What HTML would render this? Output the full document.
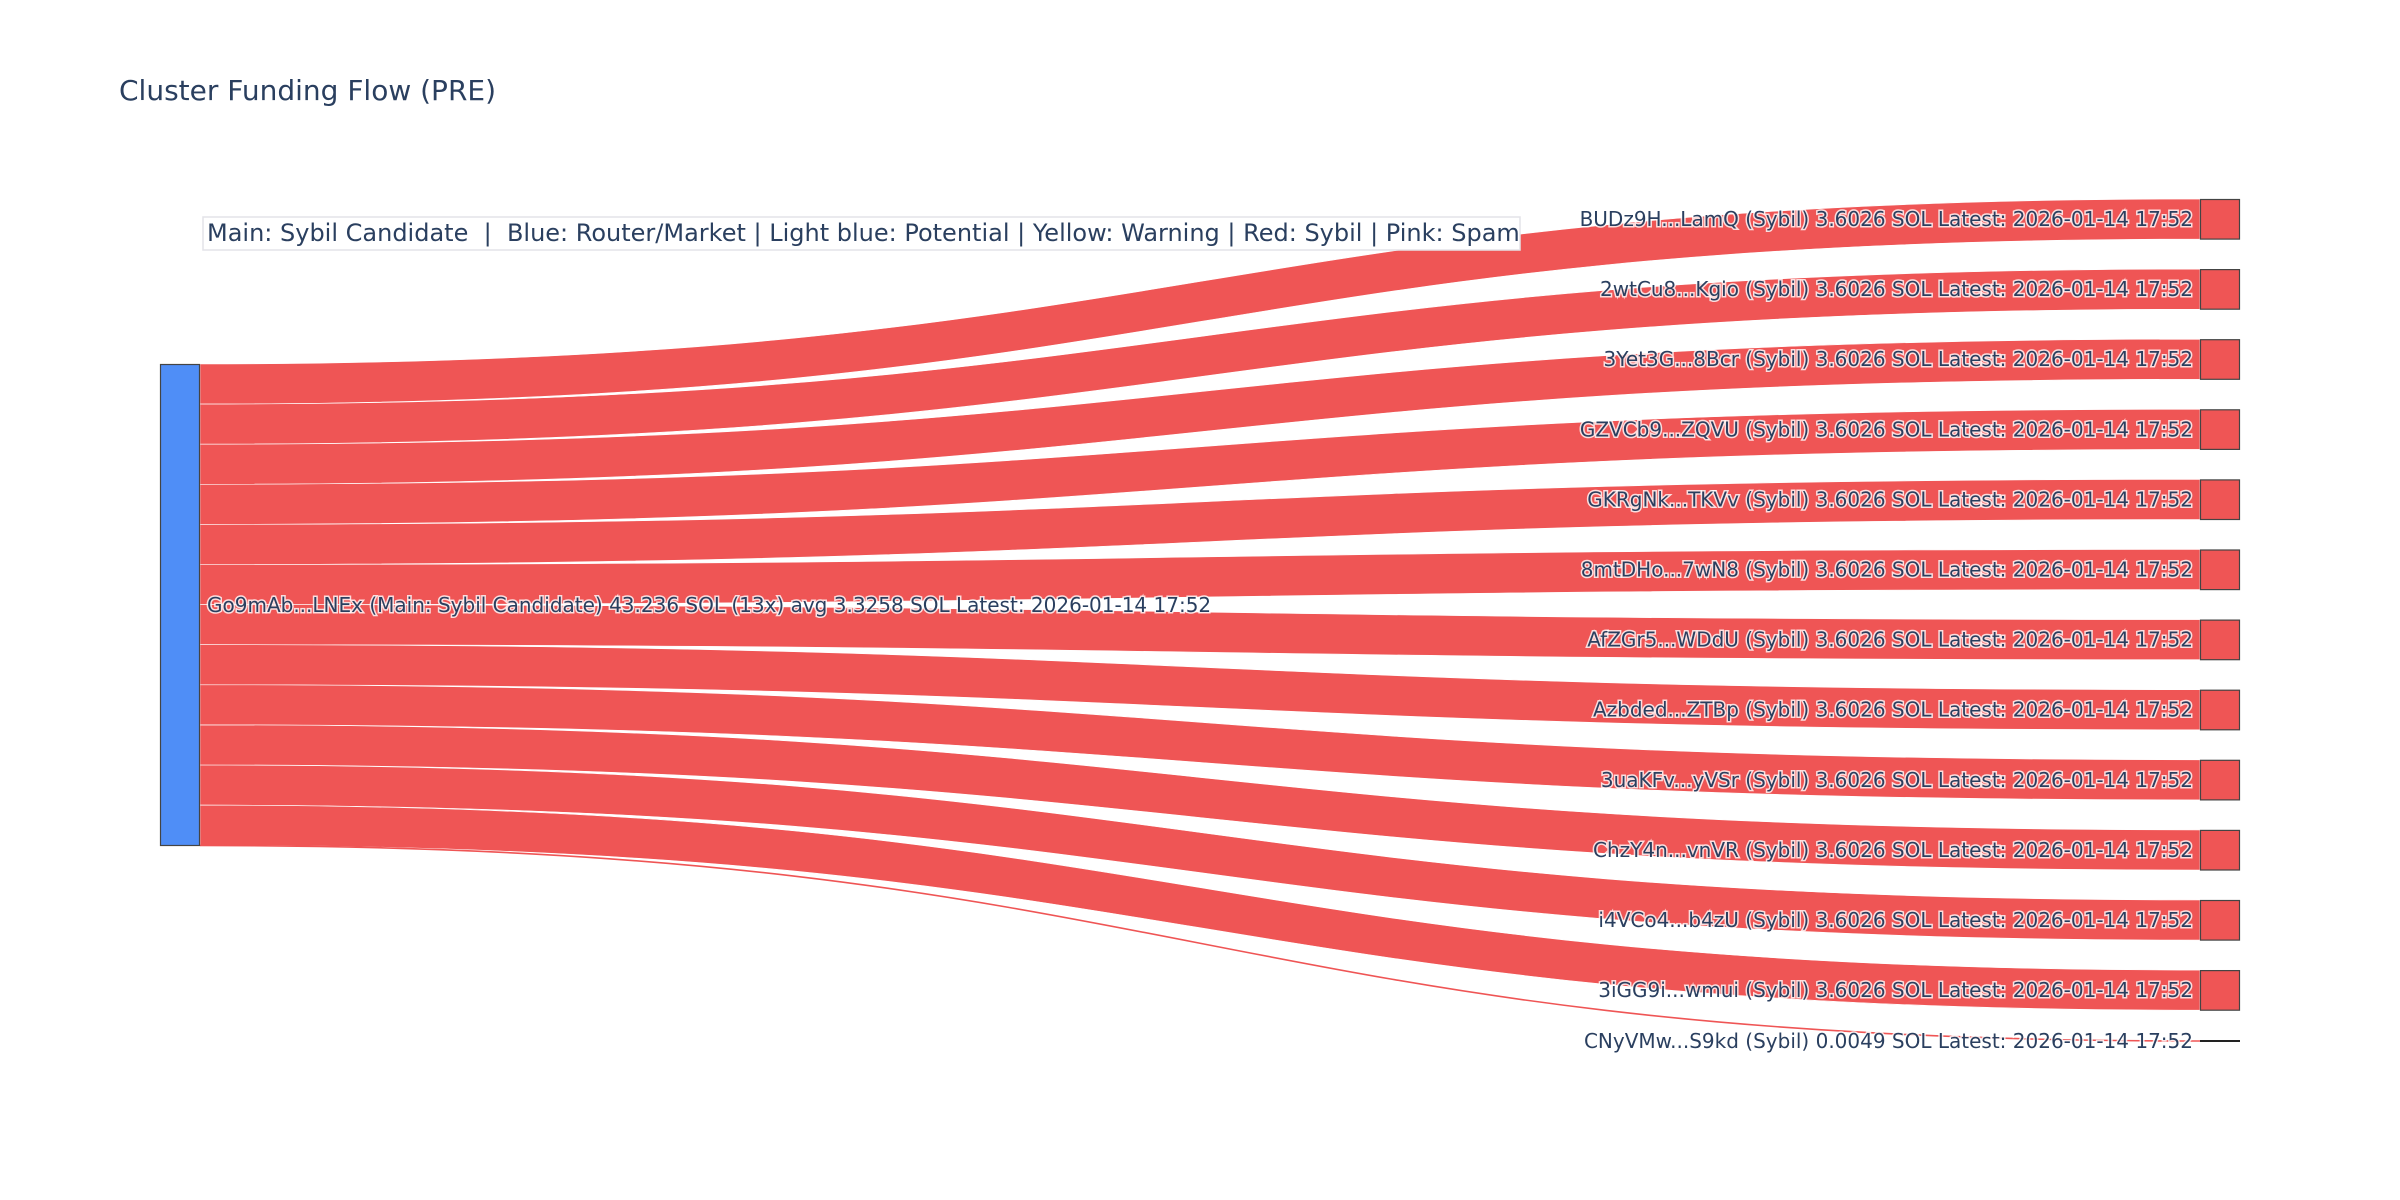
<!DOCTYPE html>
<html><head><meta charset="utf-8"><style>
html,body{margin:0;padding:0;background:#fff;}
svg{display:block;}
text{font-family:"DejaVu Sans","Liberation Sans",sans-serif;fill:#2a3f5f;white-space:pre;}
.nl{font-size:20px;text-anchor:end;dominant-baseline:central;paint-order:stroke;stroke:#fff;stroke-width:3px;stroke-opacity:0.8;}
</style></head><body>
<svg width="2400" height="1200" viewBox="0 0 2400 1200" xmlns="http://www.w3.org/2000/svg">
<rect width="2400" height="1200" fill="#fff"/>
<text x="119" y="100" style="font-size:28px">Cluster Funding Flow (PRE)</text>
<g fill="#ef5555" stroke="#fff" stroke-width="0.6">
<path d="M200,364 C1200,364 1200,199 2200,199 L2200,239.1 C1200,239.1 1200,404.1 200,404.1 Z"/>
<path d="M200,404.1 C1200,404.1 1200,269.1 2200,269.1 L2200,309.2 C1200,309.2 1200,444.2 200,444.2 Z"/>
<path d="M200,444.2 C1200,444.2 1200,339.2 2200,339.2 L2200,379.3 C1200,379.3 1200,484.3 200,484.3 Z"/>
<path d="M200,484.3 C1200,484.3 1200,409.3 2200,409.3 L2200,449.4 C1200,449.4 1200,524.4 200,524.4 Z"/>
<path d="M200,524.4 C1200,524.4 1200,479.4 2200,479.4 L2200,519.5 C1200,519.5 1200,564.5 200,564.5 Z"/>
<path d="M200,564.5 C1200,564.5 1200,549.5 2200,549.5 L2200,589.6 C1200,589.6 1200,604.6 200,604.6 Z"/>
<path d="M200,604.6 C1200,604.6 1200,619.6 2200,619.6 L2200,659.7 C1200,659.7 1200,644.7 200,644.7 Z"/>
<path d="M200,644.7 C1200,644.7 1200,689.7 2200,689.7 L2200,729.8 C1200,729.8 1200,684.8 200,684.8 Z"/>
<path d="M200,684.8 C1200,684.8 1200,759.8 2200,759.8 L2200,799.9 C1200,799.9 1200,724.9 200,724.9 Z"/>
<path d="M200,724.9 C1200,724.9 1200,829.9 2200,829.9 L2200,870 C1200,870 1200,765 200,765 Z"/>
<path d="M200,765 C1200,765 1200,900 2200,900 L2200,940.1 C1200,940.1 1200,805.1 200,805.1 Z"/>
<path d="M200,805.1 C1200,805.1 1200,970.1 2200,970.1 L2200,1010.2 C1200,1010.2 1200,845.2 200,845.2 Z"/>
</g>
<path d="M200,845.5 C1200,845.5 1200,1041 2200,1041" fill="none" stroke="#ef5555" stroke-width="1.6"/>
<rect x="160.5" y="364.5" width="39" height="481" fill="#4f8ef7" stroke="#444" stroke-width="1.2"/>
<g fill="#ef5555" stroke="#444" stroke-width="1.2">
<rect x="2200.5" y="199.5" width="39" height="39.6"/>
<rect x="2200.5" y="269.6" width="39" height="39.6"/>
<rect x="2200.5" y="339.7" width="39" height="39.6"/>
<rect x="2200.5" y="409.8" width="39" height="39.6"/>
<rect x="2200.5" y="479.9" width="39" height="39.6"/>
<rect x="2200.5" y="550" width="39" height="39.6"/>
<rect x="2200.5" y="620.1" width="39" height="39.6"/>
<rect x="2200.5" y="690.2" width="39" height="39.6"/>
<rect x="2200.5" y="760.3" width="39" height="39.6"/>
<rect x="2200.5" y="830.4" width="39" height="39.6"/>
<rect x="2200.5" y="900.5" width="39" height="39.6"/>
<rect x="2200.5" y="970.6" width="39" height="39.6"/>
</g>
<line x1="2200" y1="1041" x2="2240" y2="1041" stroke="#222" stroke-width="2"/>
<g>
<text class="nl" x="2193" y="219">BUDz9H...LamQ (Sybil) 3.6026 SOL Latest: 2026-01-14 17:52</text>
<text class="nl" x="2193" y="289.1">2wtCu8...Kgio (Sybil) 3.6026 SOL Latest: 2026-01-14 17:52</text>
<text class="nl" x="2193" y="359.2">3Yet3G...8Bcr (Sybil) 3.6026 SOL Latest: 2026-01-14 17:52</text>
<text class="nl" x="2193" y="429.3">GZVCb9...ZQVU (Sybil) 3.6026 SOL Latest: 2026-01-14 17:52</text>
<text class="nl" x="2193" y="499.4">GKRgNk...TKVv (Sybil) 3.6026 SOL Latest: 2026-01-14 17:52</text>
<text class="nl" x="2193" y="569.5">8mtDHo...7wN8 (Sybil) 3.6026 SOL Latest: 2026-01-14 17:52</text>
<text class="nl" x="2193" y="639.6">AfZGr5...WDdU (Sybil) 3.6026 SOL Latest: 2026-01-14 17:52</text>
<text class="nl" x="2193" y="709.7">Azbded...ZTBp (Sybil) 3.6026 SOL Latest: 2026-01-14 17:52</text>
<text class="nl" x="2193" y="779.8">3uaKFv...yVSr (Sybil) 3.6026 SOL Latest: 2026-01-14 17:52</text>
<text class="nl" x="2193" y="849.9">ChzY4n...vnVR (Sybil) 3.6026 SOL Latest: 2026-01-14 17:52</text>
<text class="nl" x="2193" y="920">i4VCo4...b4zU (Sybil) 3.6026 SOL Latest: 2026-01-14 17:52</text>
<text class="nl" x="2193" y="990.1">3iGG9i...wmui (Sybil) 3.6026 SOL Latest: 2026-01-14 17:52</text>
<text class="nl" x="2193" y="1041">CNyVMw...S9kd (Sybil) 0.0049 SOL Latest: 2026-01-14 17:52</text>
<text class="nl" x="207" y="605" style="text-anchor:start">Go9mAb...LNEx (Main: Sybil Candidate) 43.236 SOL (13x) avg 3.3258 SOL Latest: 2026-01-14 17:52</text>
</g>
<rect x="203" y="217" width="1317" height="33" fill="#fff" stroke="#e3e3e8" stroke-width="1.5"/>
<text x="207" y="233" xml:space="preserve" style="font-size:24px;dominant-baseline:central">Main: Sybil Candidate  |  Blue: Router/Market | Light blue: Potential | Yellow: Warning | Red: Sybil | Pink: Spam</text>
</svg>
</body></html>
